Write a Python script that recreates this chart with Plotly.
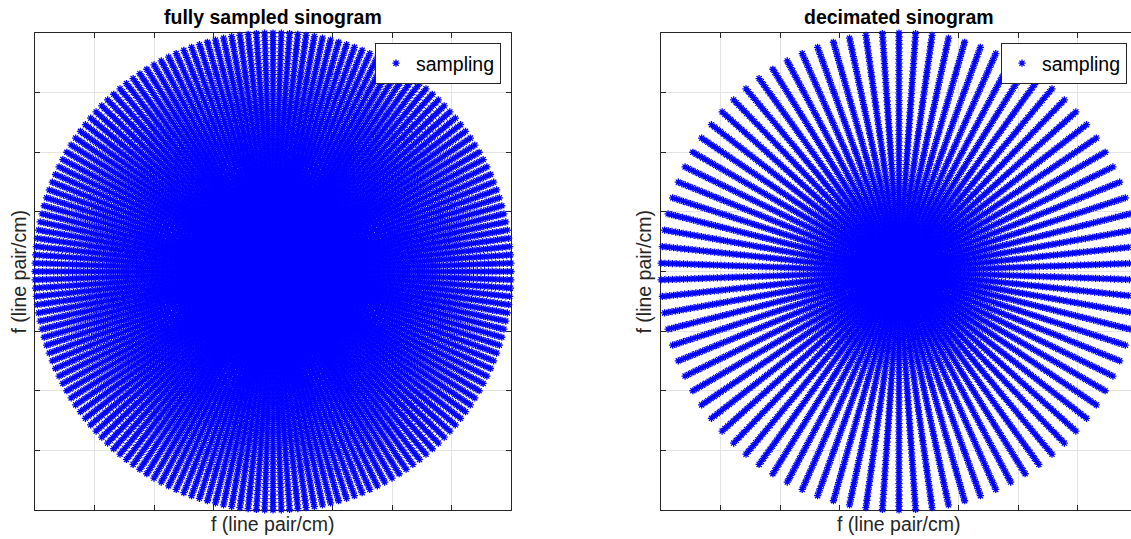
import numpy as np
import plotly.graph_objects as go

# Projection angles (degrees) of the fully sampled sinogram
angles_full = [0, 2, 4, 6, 8, 10, 12, 14, 16, 18, 20, 22, 24, 26, 28, 30, 32, 34, 36, 38,
               40, 42, 44, 46, 48, 50, 52, 54, 56, 58, 60, 62, 64, 66, 68, 70, 72, 74, 76, 78,
               80, 82, 84, 86, 88, 90, 92, 94, 96, 98, 100, 102, 104, 106, 108, 110, 112, 114,
               116, 118, 120, 122, 124, 126, 128, 130, 132, 134, 136, 138, 140, 142, 144, 146,
               148, 150, 152, 154, 156, 158, 160, 162, 164, 166, 168, 170, 172, 174, 176, 178]
# Projection angles (degrees) kept in the decimated sinogram
angles_dec = [2, 6, 10, 14, 18, 22, 26, 30, 34, 38, 42, 46, 50, 54, 58, 62, 66, 70, 74, 78,
              82, 86, 90, 94, 98, 102, 106, 110, 114, 118, 122, 126, 130, 134, 138, 142, 146,
              150, 154, 158, 162, 166, 170, 174, 178]
angles_dec = [a for a in angles_dec if a % 4 == 2]

# detector bins along each projection (spatial frequency, normalised)
n_bins = 128
f_max = 1.0
freqs = np.linspace(-f_max, f_max, n_bins)

series_name = "sampling"
titles = ["fully sampled sinogram", "decimated sinogram"]
axis_label = "f (line pair/cm)"


def radial_points(angles):
    th = np.deg2rad(np.asarray(angles, dtype=float))[:, None]
    x = (freqs[None, :] * np.cos(th)).ravel()
    y = (freqs[None, :] * np.sin(th)).ravel()
    return x, y


W, H = 1131, 539
AX = "#262626"
GRID = "#e3e3e3"
FONT = "Liberation Sans, Arial, Helvetica, sans-serif"
FS = 19.5

fig = go.Figure()
marker = dict(symbol="asterisk-open", size=6, color="#0000ff",
              line=dict(color="#0000ff", width=1.3))

x1, y1 = radial_points(angles_full)
fig.add_trace(go.Scatter(x=x1, y=y1, mode="markers", name=series_name, marker=marker,
                         xaxis="x", yaxis="y", legend="legend", cliponaxis=False,
                         hoverinfo="skip"))
x2, y2 = radial_points(angles_dec)
fig.add_trace(go.Scatter(x=x2, y=y2, mode="markers", name=series_name, marker=marker,
                         xaxis="x2", yaxis="y2", legend="legend2", cliponaxis=False,
                         hoverinfo="skip"))

# pixel geometry of the two axes boxes
L1, R1 = 35, 511
L2, R2 = 661, 1137
TOP, BOT = 33, 510
dom_y = [1 - BOT / H, 1 - TOP / H]

common = dict(showticklabels=False, ticks="inside", ticklen=5, tickcolor=AX,
              showline=True, linecolor=AX, linewidth=1, showgrid=True,
              gridcolor=GRID, gridwidth=1, zeroline=False, tick0=-f_max,
              dtick=f_max / 4, layer="below traces")

# right box is wider than the visible window: trim its range accordingly
r2_vis = min(R2, W)
x2_hi = -f_max + 2 * f_max * (r2_vis - L2) / (R2 - L2)

legend_style = dict(xanchor="right", yanchor="top", bgcolor="white", bordercolor=AX,
                    borderwidth=1, font=dict(family=FONT, size=FS, color="black"),
                    itemwidth=30, tracegroupgap=0)

fig.update_layout(
    width=W, height=H, margin=dict(l=0, r=0, t=0, b=0),
    paper_bgcolor="white", plot_bgcolor="white",
    font=dict(family=FONT, color=AX),
    xaxis=dict(domain=[L1 / W, R1 / W], range=[-f_max, f_max], mirror="ticks",
               anchor="y", **common),
    yaxis=dict(domain=dom_y, range=[-f_max, f_max], mirror="ticks", anchor="x", **common),
    xaxis2=dict(domain=[L2 / W, r2_vis / W], range=[-f_max, x2_hi], mirror="ticks",
                anchor="y2", **common),
    yaxis2=dict(domain=dom_y, range=[-f_max, f_max], mirror=False, anchor="x2", **common),
    legend=dict(x=(R1 - 10) / W, y=1 - 43 / H, **legend_style),
    legend2=dict(x=(R2 - 10) / W, y=1 - 43 / H, **legend_style),
    showlegend=True,
)

annots = []
for (l, r), t in zip([(L1, R1), (L2, R2)], titles):
    cx = (l + r) / 2 / W
    annots.append(dict(text=f"<b>{t}</b>", x=cx, y=1 - 17 / H, xref="paper", yref="paper",
                       showarrow=False, xanchor="center", yanchor="middle",
                       font=dict(family=FONT, size=FS, color="black")))
    annots.append(dict(text=axis_label, x=cx, y=1 - 524 / H, xref="paper", yref="paper",
                       showarrow=False, xanchor="center", yanchor="middle",
                       font=dict(family=FONT, size=FS, color=AX)))
for xpix in (18, 643):
    annots.append(dict(text=axis_label, x=xpix / W, y=1 - (TOP + BOT) / 2 / H,
                       xref="paper", yref="paper", showarrow=False, textangle=-90,
                       xanchor="center", yanchor="middle",
                       font=dict(family=FONT, size=FS, color=AX)))
fig.update_layout(annotations=annots)

fig.write_html("out.html")
